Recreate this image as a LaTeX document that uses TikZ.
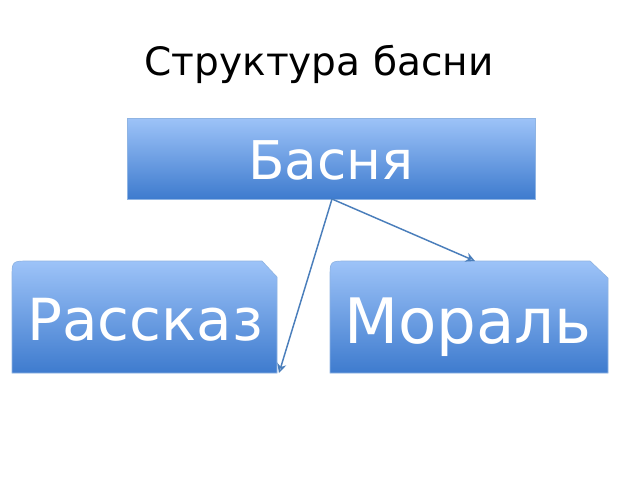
\documentclass[tikz,border=0pt]{standalone}
\usepackage{fontspec}
\setmainfont{DejaVu Sans}
\usetikzlibrary{arrows.meta}
\definecolor{topc}{HTML}{9DC3F8}
\definecolor{botc}{HTML}{3E7BCE}
\definecolor{bordc}{HTML}{8FB4E3}
\definecolor{linec}{HTML}{4A7EBB}
\begin{document}
\begin{tikzpicture}[x=0.75pt,y=-0.75pt,
  boxshade/.style={top color=topc, bottom color=botc, draw=bordc, line width=0.5pt},
  boxtext/.style={text=white, inner sep=0pt, anchor=base},
  conn/.style={draw=linec, line width=1.1pt, -{Stealth[open, length=7pt, width=7pt]}}]
\useasboundingbox (0,0) rectangle (640,480);
\fill[white] (0,0) rectangle (640,480);
% title
\node[inner sep=0pt, anchor=base, font=\fontsize{29.3}{30}\selectfont] (title) at (319,75) {Структура басни};
% boxes
\shade[boxshade] (127,118) rectangle (535,199);
\shade[boxshade] (12,373) -- (12,278) .. controls (12,261) .. (29,261) -- (262,261) -- (277,277) -- (277,373) -- cycle;
\shade[boxshade] (330,373) -- (330,278) .. controls (330,261) .. (347,261) -- (590,261) -- (608,278) -- (608,373) -- cycle;
% texts
\node[boxtext, font=\fontsize{40}{40}\selectfont] (basnya) at (331,179) {Басня};
\node[boxtext, font=\fontsize{43.5}{44}\selectfont] (rasskaz) at (145,340) {Рассказ};
\node[boxtext, font=\fontsize{47}{48}\selectfont] (moral) at (468,343) {Мораль};
% connectors
\coordinate (src) at (332,199);
\coordinate (endR) at (279,373);
\coordinate (endM) at (475,261);
\draw[conn] (src) -- (endR);
\draw[conn] (src) -- (endM);
\end{tikzpicture}
\end{document}
